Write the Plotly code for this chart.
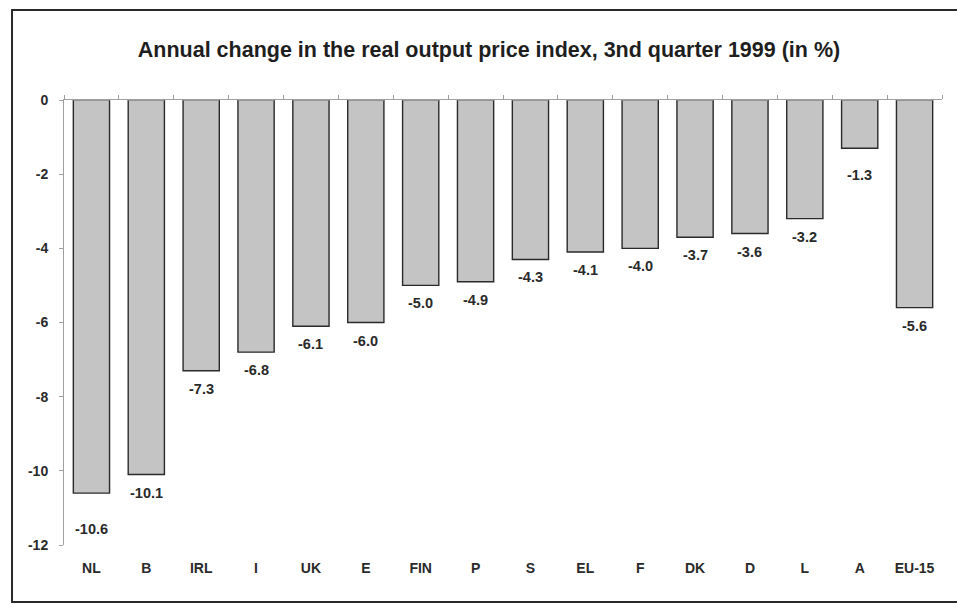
import plotly.graph_objects as go

categories = ["NL", "B", "IRL", "I", "UK", "E", "FIN", "P", "S", "EL", "F", "DK", "D", "L", "A", "EU-15"]
values = [-10.6, -10.1, -7.3, -6.8, -6.1, -6.0, -5.0, -4.9, -4.3, -4.1, -4.0, -3.7, -3.6, -3.2, -1.3, -5.6]
y_ticks = [0, -2, -4, -6, -8, -10, -12]

font_family = "Liberation Sans, Arial, sans-serif"
ink = "#2a2a2a"

fig = go.Figure()
fig.add_trace(go.Bar(
    x=categories, y=values,
    marker=dict(color="#c4c4c4", line=dict(color=ink, width=1.4)),
    width=0.66, hoverinfo="x+y",
))
# invisible trace on top axis to draw category boundary ticks on the zero line
fig.add_trace(go.Bar(x=categories, y=[0] * len(categories), xaxis="x2", showlegend=False,
                     marker=dict(color="rgba(0,0,0,0)"), hoverinfo="skip"))

# value labels below bar ends
label_nudge = {"NL": -18, "A": -9}
for c, v in zip(categories, values):
    fig.add_annotation(x=c, y=v, text=f"{v:.1f}", showarrow=False, yanchor="top",
                       yshift=-8 + label_nudge.get(c, 0),
                       font=dict(family=font_family, size=14.5, color=ink, weight="bold"))

fig.update_layout(
    width=957, height=607,
    paper_bgcolor="white", plot_bgcolor="white",
    margin=dict(l=64, r=15, t=100, b=62),
    showlegend=False,
    title=dict(text="Annual change in the real output price index, 3nd quarter 1999 (in %)",
               x=489 / 957, xanchor="center", yref="container", y=1 - 49 / 607, yanchor="middle",
               font=dict(family=font_family, size=21.5, color="#1e1e1e", weight="bold")),
    xaxis=dict(showline=False, ticks="", showgrid=False, zeroline=False,
               tickfont=dict(family=font_family, size=14, color=ink, weight="bold"),
               ticklabelstandoff=13),
    xaxis2=dict(overlaying="x", side="top", anchor="y", showline=True, linecolor="#a0a0a0",
                linewidth=1, ticks="outside", ticklen=4, tickcolor="#a0a0a0",
                tickson="boundaries", showticklabels=False, showgrid=False, zeroline=False),
    yaxis=dict(range=[-12, 0], tickvals=y_ticks, ticktext=[str(v) for v in y_ticks],
               showline=True, linecolor="#a0a0a0", linewidth=1, ticks="outside", ticklen=4,
               tickcolor="#a0a0a0", showgrid=False, zeroline=False,
               tickfont=dict(family=font_family, size=14, color=ink, weight="bold"),
               ticklabelstandoff=8),
    bargap=0.34,
)

# outer frame
fig.add_shape(type="rect", xref="paper", yref="paper",
              x0=-0.0592, x1=1.04, y0=-0.128, y1=1.202,
              line=dict(color=ink, width=2), fillcolor="rgba(0,0,0,0)", layer="below")

fig.write_html("out.html", config={"displayModeBar": False},
               post_script="document.body.style.margin='0';document.body.style.overflow='hidden';")
